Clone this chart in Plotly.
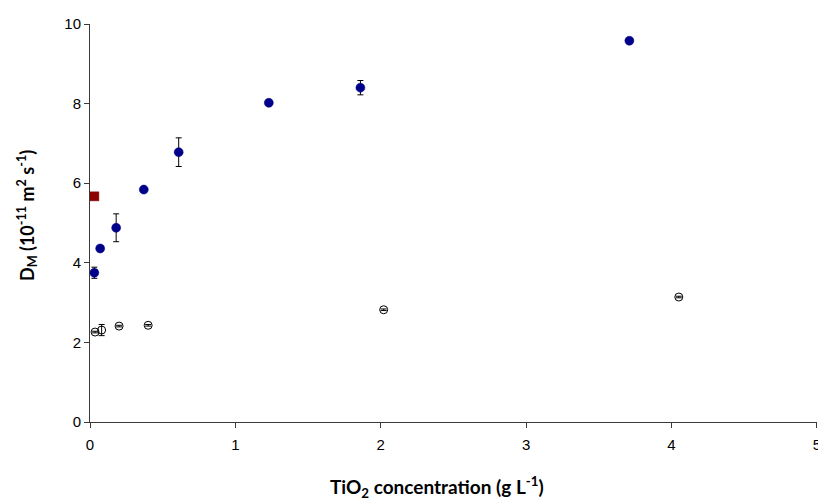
import plotly.graph_objects as go

# TiO2 concentration (g/L) and diffusion coefficient D_M (1e-11 m^2/s)
conc_a = [0.03, 0.07, 0.18, 0.37, 0.61, 1.23, 1.86, 3.71]
dm_a = [3.75, 4.36, 4.88, 5.84, 6.78, 8.02, 8.40, 9.58]
err_a = [0.14, 0.03, 0.35, 0.03, 0.36, 0.03, 0.18, 0.03]

conc_b = [0.035, 0.08, 0.20, 0.40, 2.02, 4.05]
dm_b = [2.26, 2.31, 2.41, 2.43, 2.82, 3.14]
err_b = [0.02, 0.14, 0.02, 0.02, 0.02, 0.02]

conc_ref = [0.03]
dm_ref = [5.67]

x_ticks = [0, 1, 2, 3, 4, 5]
y_ticks = [0, 2, 4, 6, 8, 10]

fig = go.Figure()

fig.add_trace(go.Scatter(
    x=conc_b, y=dm_b, mode="markers",
    marker=dict(symbol="circle", size=8, color="rgba(0,0,0,0)",
                line=dict(color="black", width=1)),
    error_y=dict(type="data", array=err_b, color="black", thickness=1, width=3),
    showlegend=False,
))

fig.add_trace(go.Scatter(
    x=conc_a, y=dm_a, mode="markers",
    marker=dict(symbol="circle", size=9, color="#00008B",
                line=dict(color="#000080", width=0.5)),
    error_y=dict(type="data", array=err_a, color="black", thickness=1, width=3),
    showlegend=False,
))

fig.add_trace(go.Scatter(
    x=conc_ref, y=dm_ref, mode="markers",
    marker=dict(symbol="square", size=9, color="#8B0000",
                line=dict(color="#7a0000", width=0.5)),
    showlegend=False,
))

axis_common = dict(
    showgrid=False, zeroline=False, showline=True, automargin=False,
    linecolor="#3a3a3a", linewidth=1,
    ticks="outside", ticklen=5, tickcolor="#3a3a3a", tickwidth=1,
    tickfont=dict(family="Liberation Sans", size=15, color="black"),
)

fig.update_xaxes(range=[0, 5.0005], tickvals=x_ticks, ticktext=[str(v) for v in x_ticks],
                 ticklabelstandoff=4, ticklabeloverflow="allow", **axis_common)
fig.update_yaxes(range=[0, 10], tickvals=y_ticks, **axis_common)

fig.add_annotation(
    text="TiO<sub>2</sub> concentration (g L<sup>-1</sup>)",
    xref="paper", yref="paper", x=(437 - 90) / 727, y=-65 / 398,
    xanchor="center", yanchor="middle", showarrow=False,
    font=dict(family="Lato", size=19, color="black", weight="bold"),
)
fig.add_annotation(
    text="D<sub>M</sub> (10<sup>-11</sup> m<sup>2</sup> s<sup>-1</sup>)",
    xref="paper", yref="paper", x=-63 / 727, y=(422 - 216) / 398,
    xanchor="center", yanchor="middle", showarrow=False, textangle=-90,
    font=dict(family="Lato", size=18, color="black", weight="bold"),
)

fig.update_layout(
    width=818, height=501,
    margin=dict(l=90, r=1, t=24, b=79),
    paper_bgcolor="white", plot_bgcolor="white",
)

fig.write_html("out.html")
